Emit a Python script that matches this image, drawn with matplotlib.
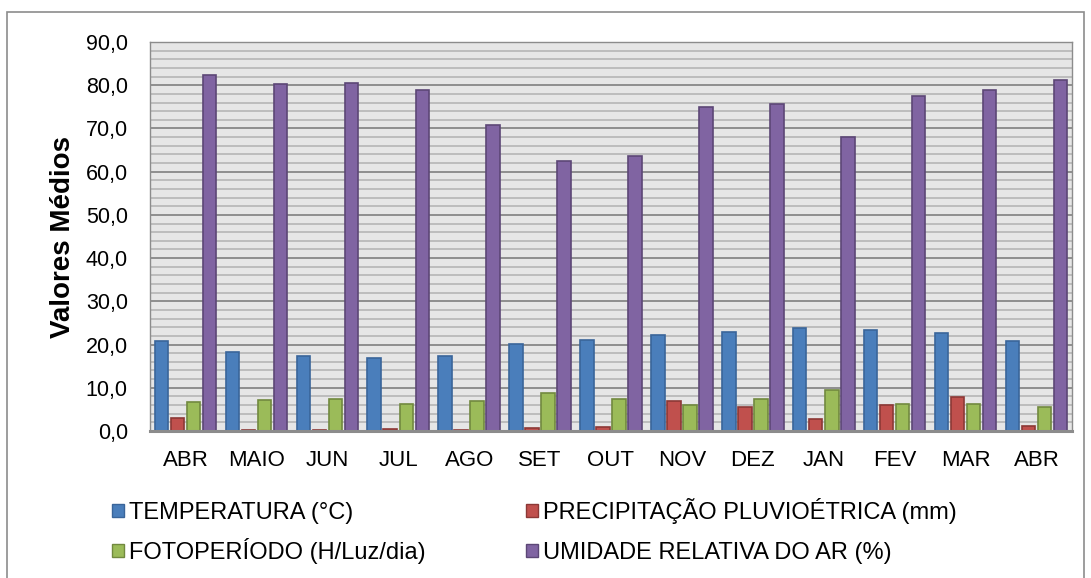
import matplotlib
matplotlib.use("Agg")
import matplotlib.pyplot as plt
import numpy as np
from matplotlib.patches import Rectangle, Patch

plt.rcParams['font.family'] = ['Liberation Sans', 'DejaVu Sans']

meses = ["ABR", "MAIO", "JUN", "JUL", "AGO", "SET", "OUT", "NOV", "DEZ", "JAN", "FEV", "MAR", "ABR"]
temperatura = [20.8, 18.3, 17.4, 17.0, 17.4, 20.2, 21.1, 22.1, 22.9, 23.9, 23.3, 22.7, 20.9]
precipitacao = [2.9, 0.3, 0.2, 0.5, 0.3, 0.7, 0.9, 6.9, 5.6, 2.7, 6.0, 7.8, 1.1]
fotoperiodo = [6.8, 7.2, 7.4, 6.3, 6.9, 8.8, 7.4, 6.0, 7.3, 9.4, 6.3, 6.3, 5.5]
umidade = [82.4, 80.3, 80.4, 78.8, 70.8, 62.5, 63.7, 75.0, 75.7, 68.0, 77.6, 79.0, 81.2]

series_nomes = ["TEMPERATURA (°C)", "PRECIPITAÇÃO PLUVIOÉTRICA (mm)",
                "FOTOPERÍODO (H/Luz/dia)", "UMIDADE RELATIVA DO AR (%)"]
cores = ["#4A7EBB", "#C0504D", "#9BBB59", "#8064A2"]
bordas = ["#3A659A", "#8C3836", "#71893F", "#5C4776"]
yticks = [0, 10, 20, 30, 40, 50, 60, 70, 80, 90]

W, H = 1091, 578
fig = plt.figure(figsize=(W / 100, H / 100), dpi=100)
fig.patch.set_facecolor("white")

# outer chart border
fig.patches.append(Rectangle((7 / W, -0.01), (1084 - 7) / W, 1 - 12 / H + 0.01,
                             transform=fig.transFigure, fill=False,
                             edgecolor="#8C8C8C", linewidth=1.2, zorder=0))

ax = fig.add_axes([150 / W, 1 - 431 / H, (1072 - 150) / W, (431 - 42) / H])
ax.set_facecolor("#E6E6E6")

x = np.arange(len(meses))
step = 0.226
width = 0.19
dados = [temperatura, precipitacao, fotoperiodo, umidade]
for i, (vals, c, e, nome) in enumerate(zip(dados, cores, bordas, series_nomes)):
    ax.bar(x + (i - 1.5) * step, vals, width=width, color=c, edgecolor=e,
           linewidth=1.2, label=nome, zorder=3)

ax.set_xlim(-0.5, len(meses) - 0.5)
ax.set_ylim(0, 90)
ax.set_yticks(yticks)
ax.set_yticklabels([f"{v:.1f}".replace(".", ",") for v in yticks])
ax.set_yticks(np.arange(0, 91, 2), minor=True)
ax.set_xticks(x)
ax.set_xticklabels(meses)

ax.grid(axis="y", which="major", color="#878787", linewidth=1.3, zorder=1)
ax.grid(axis="y", which="minor", color="#B9B9B9", linewidth=1.3, zorder=1)
ax.tick_params(axis="y", which="both", length=0, labelsize=15.5, pad=16)
ax.tick_params(axis="x", which="both", length=0, labelsize=16, pad=14)

for s in ["top", "left", "right"]:
    ax.spines[s].set_color("#8C8C8C")
    ax.spines[s].set_linewidth(1.0)
ax.spines["bottom"].set_color("#8C8C8C")
ax.spines["bottom"].set_linewidth(2.2)
ax.spines["bottom"].set_zorder(4)

ax.set_ylabel("Valores Médios", fontsize=20, fontweight="bold", labelpad=7)

handles = [Patch(facecolor=c, edgecolor=e, linewidth=1.0) for c, e in zip(cores, bordas)]
leg_kw = dict(loc="lower left", frameon=False, fontsize=17, handlelength=0.5,
              handleheight=0.5, handletextpad=0.2,
              borderaxespad=0, borderpad=0)
# legend entry positions (x of marker, bottom of row) in pixels
leg_pos = [(112, 524), (526, 524), (112, 564), (526, 564)]
for h, nome, (px, py) in zip(handles, series_nomes, leg_pos):
    fig.legend([h], [nome], bbox_to_anchor=(px / W, 1 - py / H), **leg_kw)

fig.savefig("out.png", dpi=100, facecolor="white")
